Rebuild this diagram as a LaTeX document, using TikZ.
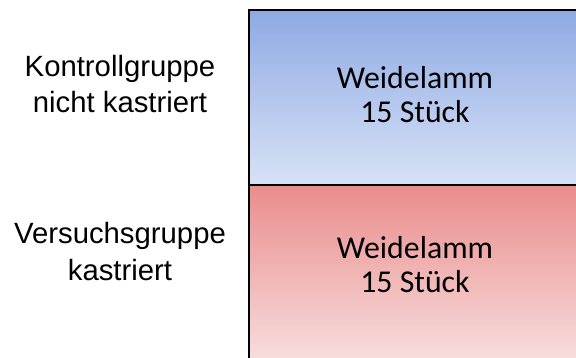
\documentclass[tikz,border=0pt]{standalone}
\usepackage{fontspec}
\setmainfont{Liberation Sans}
\newfontfamily\calib{Carlito}
\definecolor{blueTop}{RGB}{142,170,228}
\definecolor{blueBot}{RGB}{216,226,246}
\definecolor{redTop}{RGB}{234,140,140}
\definecolor{redBot}{RGB}{248,222,222}
\begin{document}
\begin{tikzpicture}[x=1pt,y=-1pt,
  grouplabel/.style={align=center,inner sep=0pt,anchor=base,font=\fontsize{29.3}{36}\selectfont},
  celltext/.style={align=center,inner sep=0pt,anchor=base,font=\calib\fontsize{31.8}{34}\selectfont},
  frame/.style={draw=black,line width=2pt}]
\useasboundingbox (0,0) rectangle (576,358);
\shade[top color=blueTop,bottom color=blueBot] (248.5,10) rectangle (582,185);
\shade[top color=redTop,bottom color=redBot] (248.5,185) rectangle (582,362);
\coordinate (tl) at (248.5,10);
\coordinate (tr) at (582,10);
\coordinate (ml) at (248.5,185);
\coordinate (mr) at (582,185);
\coordinate (bl) at (248.5,362);
\draw[frame] (bl) -- (tl) -- (tr);
\draw[frame] (ml) -- (mr);
\node[grouplabel] (kg) at (120,113) {Kontrollgruppe\\nicht kastriert};
\node[grouplabel] (vg) at (120,280) {Versuchsgruppe\\kastriert};
\node[celltext] (w1) at (415,123) {Weidelamm\\15 Stück};
\node[celltext] (w2) at (415,293) {Weidelamm\\15 Stück};
\end{tikzpicture}
\end{document}
